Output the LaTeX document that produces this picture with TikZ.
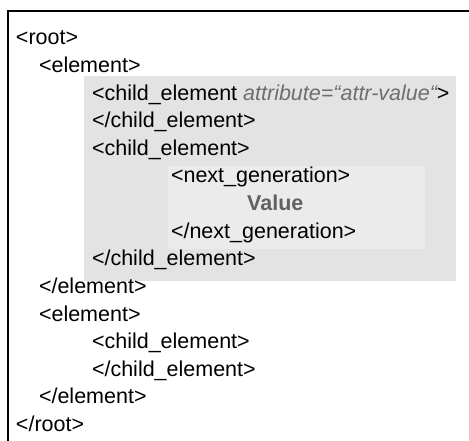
\documentclass[tikz,border=0pt]{standalone}
\usepackage{fontspec}
\setmainfont{Liberation Sans}
\begin{document}
\begin{tikzpicture}[x=1pt,y=-1pt,
  tag/.style={anchor=base west,inner sep=0pt,outer sep=0pt,font=\fontsize{21.5}{25}\selectfont,text=black},
  val/.style={anchor=base west,inner sep=0pt,text=black!62,font=\fontsize{21.5}{25}\selectfont\bfseries}]
\useasboundingbox (0,0) rectangle (469,441);
% shaded nesting levels
\fill[black!11] (84,76) rectangle (456,281);
\fill[black!8] (168,166) rectangle (425,249);
% frame (open at right and bottom)
\draw[line width=2pt] (8.3,441) -- (8.3,11) -- (469,11);
% document lines
\node[tag] (l1)  at (16,45)    {<root>};
\node[tag] (l2)  at (39,72.6)  {<element>};
\node[tag] (l3)  at (92,100.2) {<child\_element {\color{black!57}\itshape attribute=“attr-value“}>};
\node[tag] (l4)  at (92,127.8) {</child\_element>};
\node[tag] (l5)  at (92,155.4) {<child\_element>};
\node[tag] (l6)  at (171,183)  {<next\_generation>};
\node[val] (l7)  at (247,210.6) {Value};
\node[tag] (l8)  at (171,238.2) {</next\_generation>};
\node[tag] (l9)  at (92,265.8) {</child\_element>};
\node[tag] (l10) at (39,293.4) {</element>};
\node[tag] (l11) at (39,321)   {<element>};
\node[tag] (l12) at (92,348.6) {<child\_element>};
\node[tag] (l13) at (92,376.2) {</child\_element>};
\node[tag] (l14) at (39,403.8) {</element>};
\node[tag] (l15) at (16,431.4) {</root>};
\end{tikzpicture}
\end{document}
